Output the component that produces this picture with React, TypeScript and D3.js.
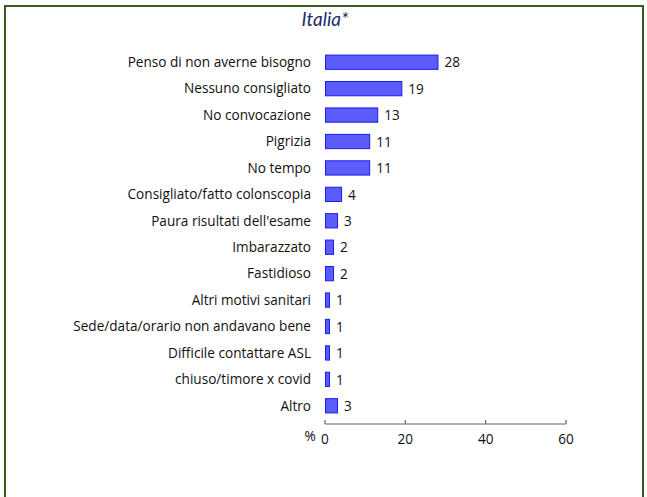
import { useEffect, useRef } from "react";
import * as d3 from "d3";

const categories = [
  "Penso di non averne bisogno",
  "Nessuno consigliato",
  "No convocazione",
  "Pigrizia",
  "No tempo",
  "Consigliato/fatto colonscopia",
  "Paura risultati dell'esame",
  "Imbarazzato",
  "Fastidioso",
  "Altri motivi sanitari",
  "Sede/data/orario non andavano bene",
  "Difficile contattare ASL",
  "chiuso/timore x covid",
  "Altro",
];
const values = [28, 19, 13, 11, 11, 4, 3, 2, 2, 1, 1, 1, 1, 3];
const xTicks = [0, 20, 40, 60];

const W = 647;
const H = 497;

export default function App() {
  const ref = useRef<SVGSVGElement>(null);

  useEffect(() => {
    const svg = d3.select(ref.current);
    svg.selectAll("*").remove();

    const x = d3.scaleLinear().domain([0, 60]).range([325, 566]);
    const y = d3.scaleBand().domain(categories).range([49, 419]).paddingInner(0.46).paddingOuter(0.23);

    svg
      .append("rect")
      .attr("x", 5)
      .attr("y", 6)
      .attr("width", 638)
      .attr("height", 520)
      .attr("fill", "white")
      .attr("stroke", "#3b5a1f")
      .attr("stroke-width", 2);

    svg
      .append("text")
      .attr("x", 325)
      .attr("y", 26)
      .attr("text-anchor", "middle")
      .attr("font-family", "Lato, sans-serif")
      .attr("font-style", "italic")
      .attr("font-size", 19)
      .attr("fill", "#1f2d6b")
      .text("Italia*");

    const data = categories.map((c, i) => ({ name: c, value: values[i] }));

    // testo in stile Calibri
    const font = "'Open Sans', sans-serif";
    const fs = 13.6;

    svg
      .append("g")
      .selectAll("rect")
      .data(data)
      .join("rect")
      .attr("x", x(0) + 0.5)
      .attr("y", (d) => y(d.name)!)
      .attr("width", (d) => x(d.value) - x(0))
      .attr("height", y.bandwidth())
      .attr("fill", "#5c5cfb")
      .attr("stroke", "#1c1cf0")
      .attr("stroke-width", 1);

    svg
      .append("g")
      .attr("font-family", font)
      .attr("font-size", fs)
      .attr("fill", "#111")
      .selectAll("text.cat")
      .data(data)
      .join("text")
      .attr("x", 311)
      .attr("y", (d) => y(d.name)! + y.bandwidth() / 2)
      .attr("dy", "0.35em")
      .attr("text-anchor", "end")
      .text((d) => d.name);

    svg
      .append("g")
      .attr("font-family", font)
      .attr("font-size", fs)
      .attr("fill", "#111")
      .selectAll("text.val")
      .data(data)
      .join("text")
      .attr("x", (d) => x(d.value) + 7)
      .attr("y", (d) => y(d.name)! + y.bandwidth() / 2)
      .attr("dy", "0.38em")
      .text((d) => d.value);

    const axis = svg.append("g").attr("transform", "translate(0,424)");
    axis
      .append("line")
      .attr("x1", x(0))
      .attr("x2", x(60))
      .attr("stroke", "#666")
      .attr("stroke-width", 1.2);
    axis
      .selectAll("line.tick")
      .data(xTicks)
      .join("line")
      .attr("x1", (d) => x(d))
      .attr("x2", (d) => x(d))
      .attr("y1", -4)
      .attr("y2", 0)
      .attr("stroke", "#666")
      .attr("stroke-width", 1.2);
    axis
      .selectAll("text")
      .data(xTicks)
      .join("text")
      .attr("x", (d) => x(d))
      .attr("y", 20)
      .attr("text-anchor", "middle")
      .attr("font-family", font)
      .attr("font-size", fs)
      .attr("fill", "#111")
      .text((d) => d);
    axis
      .append("text")
      .attr("x", 310)
      .attr("y", 17)
      .attr("text-anchor", "middle")
      .attr("font-family", font)
      .attr("font-size", fs)
      .attr("fill", "#111")
      .text("%");
  }, []);

  return (
    <svg
      ref={ref}
      width={W}
      height={H}
      style={{ position: "absolute", left: 0, top: 0, background: "white" }}
    />
  );
}
